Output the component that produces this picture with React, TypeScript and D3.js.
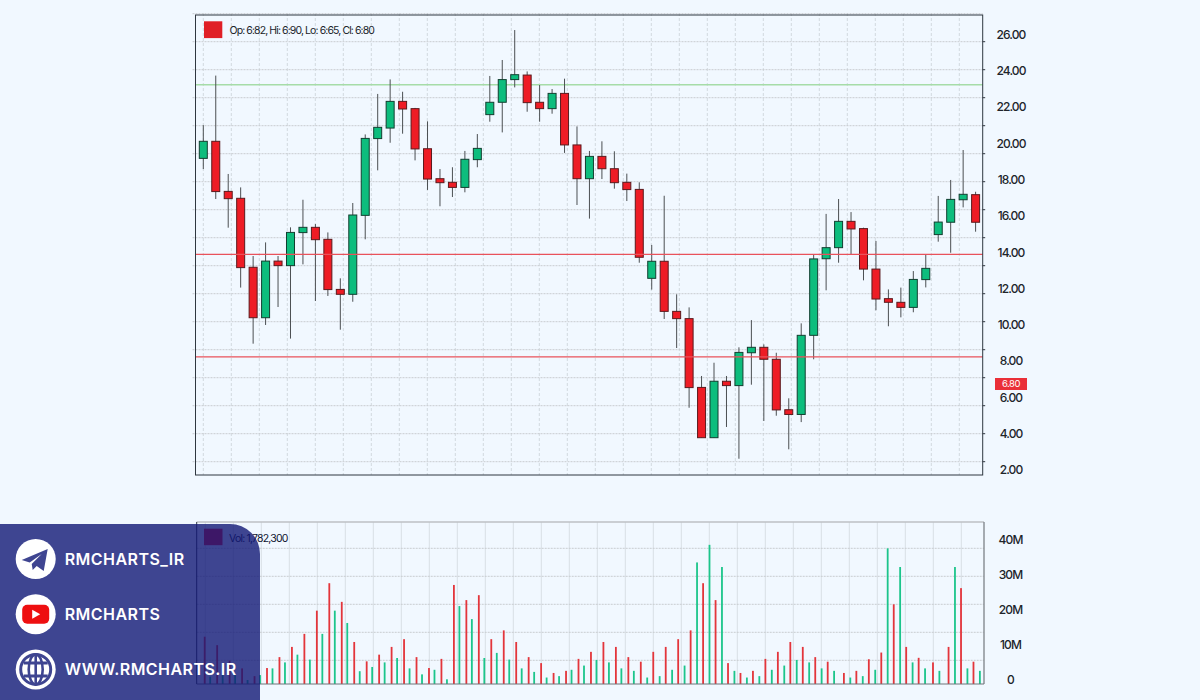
import React from "react";
import * as d3 from "d3";

// ---------- data ----------
const opens = [19.17,20.11,17.35,16.97,13.17,10.39,13.51,13.26,15.08,15.37,14.71,11.95,11.68,16.03,20.26,20.84,22.31,21.91,19.70,18.05,17.85,17.57,19.10,21.58,22.26,23.51,23.76,22.26,21.91,22.75,19.91,18.05,19.28,18.60,17.85,17.46,12.56,13.50,10.74,10.34,6.55,3.78,6.89,6.65,8.46,8.76,8.10,5.32,5.06,9.42,13.64,14.25,15.70,15.30,13.07,11.44,11.24,10.96,12.49,14.97,15.65,16.89,17.17];
const highs = [21.0,23.73,18.31,17.57,13.79,14.54,13.79,15.37,16.89,15.55,15.09,12.56,16.71,20.49,22.72,23.52,22.84,21.95,21.21,18.58,18.68,19.58,20.51,23.71,24.59,26.24,23.96,23.21,22.99,23.56,20.93,19.58,20.11,19.56,18.33,17.85,14.40,17.11,11.68,10.96,7.18,7.91,7.18,8.76,10.26,8.92,8.46,5.95,10.08,13.86,16.11,16.93,16.21,15.35,14.62,11.95,12.05,12.96,13.88,17.10,17.98,19.63,17.33];
const lows = [18.58,16.93,15.35,12.05,8.96,9.99,10.98,9.24,13.33,11.31,11.59,9.73,11.27,14.71,18.51,20.03,20.53,19.06,17.43,16.53,17.04,17.30,18.68,21.19,20.60,23.08,21.74,21.19,21.63,19.47,16.60,15.85,18.03,17.50,16.82,13.42,11.94,10.32,8.72,5.43,3.78,3.78,4.37,2.62,6.70,4.70,4.99,3.14,4.64,8.10,11.90,13.42,13.88,12.45,10.80,9.92,10.41,10.69,12.06,14.58,13.97,16.47,15.13];
const closes = [20.11,17.34,16.95,13.15,10.39,13.51,13.26,15.09,15.37,14.69,11.94,11.68,16.05,20.27,20.88,22.31,21.89,19.69,18.03,17.83,17.57,19.12,19.72,22.26,23.51,23.78,22.24,21.91,22.75,19.91,18.05,19.28,18.60,17.83,17.45,13.72,13.50,10.74,10.34,6.54,3.78,6.89,6.65,8.48,8.76,8.10,5.31,5.06,9.42,13.63,14.25,15.70,15.28,13.07,11.42,11.24,10.96,12.50,13.11,15.66,16.91,17.19,15.65];

const volumeSessions = [0,1,2,3,4,5,6,7,8,9,10,11,12,13,14,15,16,17,18,19,20,21,22,23,24,25,26,27,28,29,30,31,32,33,34,35,36,37,38,39,40,41,42,43,44,45,46,47,48,49,50,51.3,52.3,53.3,54.3,55.3,56.3,57.3,58.45,59.7,60.7,61.7];
const volumeDown = [12.3,9.9,5.5,3.3,1.1,3.4,6.5,9.4,13.1,19.7,27.5,22.2,10.8,5.3,7.2,9.4,11.6,6.5,3.4,6.0,27.0,22.7,24.1,11.6,14.1,10.8,6.5,4.8,2.0,2.6,6.0,8.0,10.8,9.4,6.5,5.2,8.0,9.4,11.6,14.1,27.5,22.7,4.8,2.0,2.6,6.0,8.0,10.8,9.4,6.5,5.2,2.0,2.6,5.9,7.8,21.5,9.4,6.3,5.0,9.4,26.1,5.2];
const volumeUp = [0.95,1.4,1.4,0,1.4,3.3,5.0,7.2,5.8,13.1,19.7,16.2,2.5,3.7,5.0,6.25,3.3,1.6,2.9,0.2,21.0,17.3,6.25,7.7,5.8,3.3,2.3,0.7,1.1,2.9,4.1,5.7,5.0,3.3,2.6,0.7,1.1,2.9,4.1,33.4,38.4,32.1,2.6,0.7,1.1,2.9,4.1,5.7,5.0,3.3,2.6,0.7,1.1,2.9,37.4,32.1,5.0,3.3,2.6,32.1,3.3,2.6];

const priceTicks = [2,4,6,8,10,12,14,16,18,20,22,24,26];
const volumeTicks = [0,10,20,30,40];
const levelsRed = [13.88,8.23];
const levelsGreen = [23.23];
const lastPrice = 6.8;
const gridRows = d3.range(-1, 16);
const volGridRows = d3.range(5);
const gridCols = d3.range(28);

const legendPrice = "Op: 6:82, Hi: 6:90, Lo: 6:65, Cl: 6:80";
const legendVolume = "Vol: 1,782,300";
const socials = ["RMCHARTS_IR", "RMCHARTS", "WWW.RMCHARTS.IR"];

// ---------- scales ----------
const P = { l: 195.5, r: 982.7, t: 15, b: 475 };
const V = { l: 196.7, r: 984, t: 522, b: 684 };
const yPrice = d3.scaleLinear().domain([2, 26]).range([470, 34.4]);
const xCandle = d3.scaleLinear().domain([0, 62]).range([203.3, 975.6]);
const yVol = d3.scaleLinear().domain([0, 40]).range([680, 539.2]);
const xVol = d3.scaleLinear().domain([0, 1]).range([204.7, 217.16]);
const gridY = d3.scaleLinear().domain([0, 1]).range([41.7, 69.7]);
const gridX = d3.scaleLinear().domain([0, 1]).range([203.3, 231.3]);
const volGridY = d3.scaleLinear().domain([0, 1]).range([548.3, 576.3]);
const volGridX = d3.scaleLinear().domain([0, 1]).range([205.3, 233.3]);
const fmt = d3.format(".2f");

const FONT = "Inter, 'Noto Sans', sans-serif";
const RED = "#ee1c25";
const GREEN = "#0dbd7d";
const NAVY = "#3f4591";

const sideY = d3.scalePoint<number>().domain([0, 1, 2]).range([559, 669.4]);

function Icon({ i }: { i: number }) {
  if (i === 0)
    return <path d="M-14,1 L12,-10 L8,12 L1,7 L-3,11 L-4,5 L6,-5 L-6,3.5 Z" fill={NAVY} />;
  if (i === 1)
    return (
      <g>
        <rect x={-13.5} y={-9.5} width={27} height={19} rx={5} fill="#ee0f10" />
        <path d="M-3.5,-4.5 L4.5,0 L-3.5,4.5 Z" fill="#fff" />
      </g>
    );
  return (
    <g fill="none" stroke={NAVY} strokeWidth={2.6}>
      <ellipse rx={7} ry={15} />
      <path d="M0,-15 V15" />
      <path d="M-12,-6.5 H12 M-12,6.5 H12" strokeWidth={3} />
      <circle r={15} strokeWidth={3} />
    </g>
  );
}

export default function App() {
  const volBars = volumeSessions.flatMap((s, k) => [
    { x: xVol(s), v: volumeDown[k], c: "#e3353b" },
    { x: xVol(s) + (k < 35 ? 5.5 : 6.4), v: volumeUp[k], c: "#1cc58b" },
  ]);
  return (
    <svg
      width={1200}
      height={700}
      viewBox="0 0 1200 700"
      style={{ position: "absolute", left: 0, top: 0, background: "#f1f8ff" }}
      fontFamily={FONT}
    >
      {/* price grid */}
      {gridCols.map((c) => (
        <line key={c} x1={gridX(c)} x2={gridX(c)} y1={P.t - 2} y2={P.b} stroke="#d3d9df" strokeDasharray="3 2" />
      ))}
      {gridRows.map((r) => (
        <line key={r} x1={P.l - 3} x2={P.r} y1={gridY(r)} y2={gridY(r)} stroke="#c8ccd0" strokeDasharray="2 1" />
      ))}

      {/* levels */}
      {levelsGreen.map((v) => (
        <line key={v} x1={P.l} x2={P.r} y1={yPrice(v)} y2={yPrice(v)} stroke="#a6dca8" strokeWidth={1.6} />
      ))}

      {/* candles */}
      {opens.map((o, i) => {
        const c = closes[i];
        const up = c >= o;
        const x = xCandle(i);
        const top = yPrice(Math.max(o, c));
        const bot = yPrice(Math.min(o, c));
        return (
          <g key={i}>
            <line x1={x} x2={x} y1={yPrice(highs[i])} y2={yPrice(lows[i])} stroke="#4b4f52" strokeWidth={1} />
            <rect
              x={x - 4}
              y={top}
              width={8}
              height={Math.max(bot - top, 1)}
              fill={up ? GREEN : RED}
              stroke={up ? "#123f30" : "#5a1a1d"}
              strokeWidth={1}
            />
          </g>
        );
      })}

      {levelsRed.map((v) => (
        <line key={v} x1={P.l} x2={P.r} y1={yPrice(v)} y2={yPrice(v)} stroke="#e9525b" strokeWidth={1.2} />
      ))}

      {/* price frame and axis */}
      <rect x={P.l} y={P.t} width={P.r - P.l} height={P.b - P.t} fill="none" stroke="#2f3740" strokeWidth={1} />
      {gridRows.filter((r) => r >= 0).map((r) => (
        <line key={r} x1={P.r} x2={P.r + 2.5} y1={gridY(r)} y2={gridY(r)} stroke="#2f3740" />
      ))}
      {priceTicks.map((t) => (
        <text key={t} x={1011} y={yPrice(t)} dy="0.36em" textAnchor="middle" fontSize={12} fontWeight={500} letterSpacing={-0.9} fill="#20242a">
          {fmt(t)}
        </text>
      ))}
      <rect x={995} y={378} width={32} height={12} fill="#ea2f38" />
      <text x={1011} y={yPrice(lastPrice) + 1} dy="0.36em" textAnchor="middle" fontSize={9.5} letterSpacing={-0.5} fill="#fff">
        {fmt(lastPrice)}
      </text>

      {/* price legend */}
      <rect x={204} y={21.3} width={18.3} height={16.8} fill="#e01f26" />
      <text x={229.5} y={30} dy="0.36em" fontSize={10.5} letterSpacing={-0.9} fill="#20242a">
        {legendPrice}
      </text>

      {/* volume grid */}
      {gridCols.map((c) => (
        <line key={c} x1={volGridX(c)} x2={volGridX(c)} y1={V.t} y2={V.b} stroke="#d9dfe5" />
      ))}
      {volGridRows.map((r) => (
        <line key={r} x1={V.l} x2={V.r} y1={volGridY(r)} y2={volGridY(r)} stroke="#c8ccd0" strokeDasharray="2 1" />
      ))}
      {volBars.map((b, i) => (
        <rect key={i} x={b.x - 0.9} y={yVol(b.v)} width={1.8} height={Math.max(V.b - yVol(b.v), 0)} fill={b.c} />
      ))}

      {/* volume frame and axis */}
      <line x1={V.l} x2={V.r} y1={V.t} y2={V.t} stroke="#bcc0c4" strokeWidth={1.4} />
      <line x1={V.l} x2={V.l} y1={V.t} y2={V.b} stroke="#2f3740" />
      <line x1={V.r} x2={V.r} y1={V.t} y2={V.b} stroke="#858a90" strokeWidth={1.4} />
      <line x1={V.l} x2={V.r} y1={V.b} y2={V.b} stroke="#6f757a" strokeWidth={1.2} />
      {volumeTicks.map((t) => (
        <text key={t} x={1010.5} y={yVol(t)} dy="0.36em" textAnchor="middle" fontSize={12} fontWeight={500} letterSpacing={-0.9} fill="#20242a">
          {t === 0 ? "0" : `${t}M`}
        </text>
      ))}
      <rect x={204} y={528.7} width={18.5} height={16.5} fill="#e8152f" />
      <text x={229} y={538} dy="0.36em" fontSize={10.5} letterSpacing={-0.8} fill="#101430">
        {legendVolume}
      </text>

      {/* social panel */}
      <path d="M0,524 H230 A30,30 0 0 1 260,554 V700 H0 Z" fill="#121875" fillOpacity={0.8} />
      {socials.map((s, i) => (
        <g key={s} transform={`translate(35.7,${sideY(i)})`}>
          <circle r={20} fill="#fff" />
          <Icon i={i} />
          <text x={29} dy="0.36em" fontSize={16} fontWeight={600} letterSpacing={0.45} fill="#fff">
            {s}
          </text>
        </g>
      ))}
    </svg>
  );
}
